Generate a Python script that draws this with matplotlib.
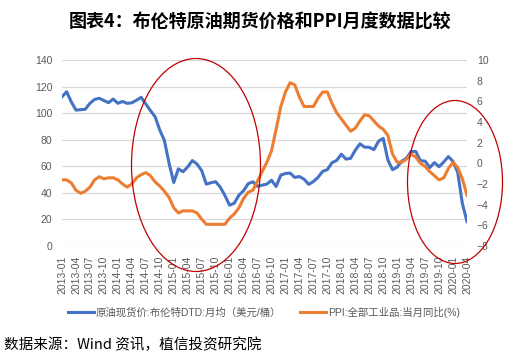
import numpy as np
import pandas as pd
import matplotlib
matplotlib.use("Agg")
import matplotlib.pyplot as plt
from matplotlib.patches import Ellipse

plt.rcParams['font.family'] = ['Liberation Sans', 'Noto Sans CJK SC', 'DejaVu Sans']

# monthly data 2013-01 .. 2020-04
months = pd.period_range('2013-01', '2020-04', freq='M').strftime('%Y-%m').tolist()

brent = [
    112.3, 116.1, 108.5, 102.3, 102.6, 102.9, 107.4, 110.3, 111.2, 109.5, 107.9, 110.6,  # 2013
    107.4, 108.8, 107.4, 107.8, 109.7, 111.9, 106.9, 101.9, 97.3, 87.3, 79.4, 62.3,      # 2014
    47.8, 58.1, 55.9, 59.5, 64.3, 61.7, 56.8, 46.6, 47.6, 48.4, 44.3, 38.0,              # 2015
    30.7, 32.2, 38.2, 41.6, 46.9, 48.3, 44.9, 45.8, 46.6, 49.5, 44.8, 53.3,              # 2016
    54.6, 54.9, 51.6, 52.3, 50.3, 46.4, 48.5, 51.7, 56.2, 57.5, 62.7, 64.4,              # 2017
    69.1, 65.4, 66.0, 72.1, 76.9, 74.4, 74.3, 72.5, 78.9, 81.0, 64.8, 57.4,              # 2018
    59.4, 63.9, 66.1, 71.2, 71.1, 64.2, 63.9, 59.0, 62.8, 59.7, 63.2, 67.3,              # 2019
    63.7, 55.5, 32.0, 18.4,                                                              # 2020
]

ppi = [
    -1.6, -1.6, -1.9, -2.6, -2.9, -2.7, -2.3, -1.6, -1.3, -1.5, -1.4, -1.4,
    -1.6, -2.0, -2.3, -2.0, -1.4, -1.1, -0.9, -1.2, -1.8, -2.2, -2.7, -3.3,
    -4.3, -4.8, -4.6, -4.6, -4.6, -4.8, -5.4, -5.9, -5.9, -5.9, -5.9, -5.9,
    -5.3, -4.9, -4.3, -3.4, -2.8, -2.6, -1.7, -0.8, 0.1, 1.2, 3.3, 5.5,
    6.9, 7.8, 7.6, 6.4, 5.5, 5.5, 5.5, 6.3, 6.9, 6.9, 5.8, 4.9,
    4.3, 3.7, 3.1, 3.4, 4.1, 4.7, 4.6, 4.1, 3.6, 3.3, 2.7, 0.9,
    0.1, 0.1, 0.4, 0.9, 0.6, 0.0, -0.3, -0.8, -1.2, -1.6, -1.4, -0.5,
    0.1, -0.4, -1.5, -3.1,
]

left_ticks = list(range(0, 141, 20))
right_ticks = list(range(-8, 11, 2))

blue = '#4472C4'
orange = '#ED7D31'
grey = '#595959'

fig = plt.figure(figsize=(5.14, 3.64), dpi=100)
ax = fig.add_axes([62 / 514, 1 - 246 / 364, 405 / 514, 186 / 364])
ax2 = ax.twinx()

x = np.arange(len(months))
l1, = ax.plot(x, brent, color=blue, lw=2.2, label='原油现货价:布伦特DTD:月均（美元/桶）')
l2, = ax2.plot(x, ppi, color=orange, lw=2.2, label='PPI:全部工业品:当月同比(%)')

ax.set_xlim(0, len(months) - 1)
ax.set_ylim(0, 140)
ax2.set_ylim(-8, 10)
ax.set_yticks(left_ticks)
ax2.set_yticks(right_ticks)
ax.set_xticks(x[::3])
ax.set_xticklabels(months[::3], rotation=90)

ax.grid(axis='y', color='#D9D9D9', lw=0.9)
ax.set_axisbelow(True)
for a in (ax, ax2):
    for s in a.spines.values():
        s.set_visible(False)
    a.tick_params(length=0, labelsize=7.5, colors=grey)
ax.tick_params(axis='y', pad=7)
ax2.tick_params(axis='y', pad=7)
ax.tick_params(axis='x', pad=7)

fig.legend(handles=[l1, l2], loc='center', bbox_to_anchor=(264 / 514, 1 - 312 / 364),
           ncol=2, frameon=False, fontsize=7.5, handlelength=2.5, handletextpad=0.2,
           columnspacing=1.8, labelcolor=grey)

fig.text(0.505, 1 - 22 / 364, '图表4：布伦特原油期货价格和PPI月度数据比较', ha='center', va='center',
         fontsize=13, fontweight='bold', family=['Noto Sans CJK SC'])
fig.text(4 / 514, 1 - 345 / 364, '数据来源：Wind 资讯，植信投资研究院', ha='left', va='center',
         fontsize=10.5, family=['Noto Sans CJK SC'])

# red annotation ellipses
for cx, cy, w, h in [(196, 165, 129, 213), (455, 182, 95, 163)]:
    e = Ellipse((cx / 514, 1 - cy / 364), w / 514, h / 364, transform=fig.transFigure,
                fill=False, edgecolor='#C00000', lw=0.9, zorder=10)
    fig.add_artist(e)

fig.savefig('out.png', dpi=100)
